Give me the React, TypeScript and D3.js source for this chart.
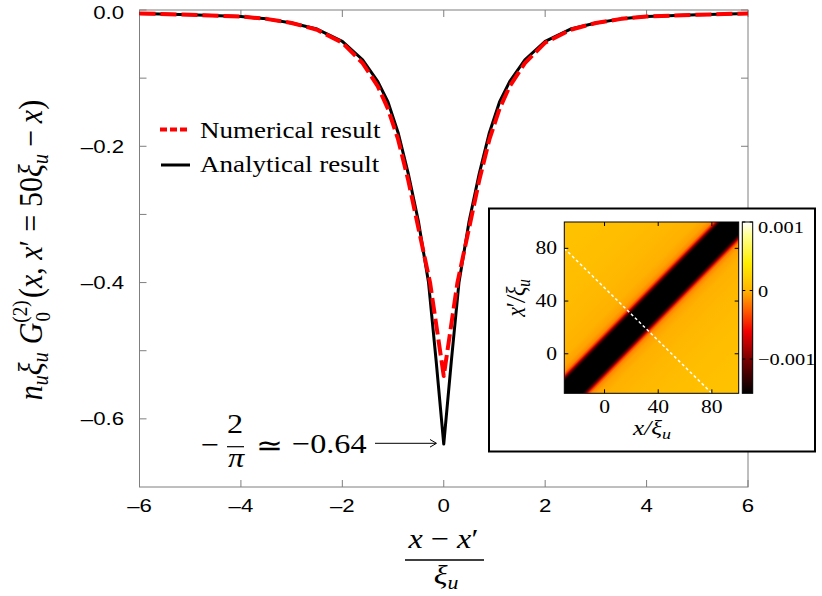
import React from "react";
import * as d3 from "d3";

// ---------- data ----------
const xTickValues = [-6, -4, -2, 0, 2, 4, 6];
const xTickLabels = ["–6", "–4", "–2", "0", "2", "4", "6"];
const yTickValues = [0, -0.2, -0.4, -0.6];
const yTickLabels = ["0.0", "–0.2", "–0.4", "–0.6"];
const yMinorTicks = [-0.1, -0.3, -0.5];

const analyticX = [-6, -5, -4, -3.5, -3, -2.5, -2, -1.6, -1.3, -1.1, -0.9, -0.7, -0.5, -0.3, -0.15, 0, 0.15, 0.3, 0.5, 0.7, 0.9, 1.1, 1.3, 1.6, 2, 2.5, 3, 3.5, 4, 5, 6];
const analyticY = [-0.005, -0.007, -0.0095, -0.013, -0.019, -0.028, -0.046, -0.073, -0.105, -0.135, -0.18, -0.24, -0.31, -0.4, -0.515, -0.637, -0.515, -0.4, -0.31, -0.24, -0.18, -0.135, -0.105, -0.073, -0.046, -0.028, -0.019, -0.013, -0.0095, -0.007, -0.005];

const numericX = [-6, -5, -4, -3.5, -3, -2.5, -2, -1.6, -1.3, -1.1, -0.9, -0.7, -0.5, -0.27, 0, 0.27, 0.5, 0.7, 0.9, 1.1, 1.3, 1.6, 2, 2.5, 3, 3.5, 4, 5, 6];
const numericY = [-0.005, -0.007, -0.0095, -0.013, -0.019, -0.029, -0.048, -0.078, -0.112, -0.145, -0.19, -0.25, -0.32, -0.4, -0.537, -0.4, -0.32, -0.25, -0.19, -0.145, -0.112, -0.078, -0.048, -0.029, -0.019, -0.013, -0.0095, -0.007, -0.005];

// inset heat map: value (colour-bar units) vs |x - x'| / xi_u
const heatDist = [0, 11, 13, 14.5, 16, 18, 22, 30, 50, 80, 130];
const heatVal = [-0.003, -0.0016, -0.0012, -0.0008, -0.0004, -0.00015, -0.00006, -0.00001, 0.00003, 0.00007, 0.0001];
const cbValues = [-0.0015, -0.001, -0.0006, -0.0003, 0, 0.0004, 0.0008, 0.001];
const cbColors = ["#000000", "#7a0000", "#f00000", "#ff5a00", "#ffb400", "#ffee00", "#ffff90", "#ffffff"];
const cbTickValues = [0.001, 0, -0.001];
const cbTickLabels = ["0.001", "0", "−0.001"];
const insetTicks = [0, 40, 80];
const cutLineX = [-30, 80];
const cutLineY = [80, -30];

// ---------- layout ----------
const W = 822;
const H = 596;
const SX = 1.2;
const frameColor = "#7f7f7f";
const sans = "'Liberation Sans', Arial, sans-serif";
const serif = "'Liberation Serif', 'Times New Roman', serif";

const xScale = d3.scaleLinear().domain([-6, 6]).range([139.5, 748]);
const yScale = d3.scaleLinear().domain([-0.7, 0]).range([487, 10]);
const hx = d3.scaleLinear().domain([-30, 100]).range([564.3, 738.7]);
const hy = d3.scaleLinear().domain([-30, 100]).range([393.3, 222]);
const cbScale = d3.scaleLinear().domain([-0.0015, 0.001]).range([393.3, 222]);
const colorScale = d3.scaleLinear<string>().domain(cbValues).range(cbColors).clamp(true);

function T(props: any) {
  const { x, y, sx = SX, anchor = "start", size, family = serif, italic, children, fill = "#000" } = props;
  return (
    <text
      transform={`translate(${x},${y}) scale(${sx},1)`}
      textAnchor={anchor}
      fontSize={size}
      fontFamily={family}
      fontStyle={italic ? "italic" : "normal"}
      fill={fill}
    >
      {children}
    </text>
  );
}

export default function App() {
  const analyticPath = d3.line()(analyticX.map((v, i) => [xScale(v), yScale(analyticY[i])]) as any) as string;
  const numericPath = d3.line()(numericX.map((v, i) => [xScale(v), yScale(numericY[i])]) as any) as string;

  const [x0, x1] = xScale.range();
  const [yb, yt] = yScale.range();
  const tl = 7;

  // heat map gradient along anti-diagonal: from x-x' = +130 (bottom-right) to -130 (top-left)
  const heatStops: { off: number; col: string }[] = [];
  for (let i = heatDist.length - 1; i >= 0; i--) heatStops.push({ off: (130 - heatDist[i]) / 260, col: colorScale(heatVal[i]) });
  for (let i = 1; i < heatDist.length; i++) heatStops.push({ off: (130 + heatDist[i]) / 260, col: colorScale(heatVal[i]) });

  const hx0 = hx(-30), hx1 = hx(100), hy0 = hy(-30), hy1 = hy(100);
  const cbx0 = 742.3, cbx1 = 752.7;

  return (
    <svg width={W} height={H} style={{ position: "absolute", left: 0, top: 0, background: "#fff" }}>
      <defs>
        <linearGradient id="heat" gradientUnits="userSpaceOnUse" x1={hx(100)} y1={hy(-30)} x2={hx(-30)} y2={hy(100)}>
          {heatStops.map((s, i) => (
            <stop key={i} offset={s.off} stopColor={s.col} />
          ))}
        </linearGradient>
        <linearGradient id="cb" gradientUnits="userSpaceOnUse" x1={0} y1={cbScale(-0.0015)} x2={0} y2={cbScale(0.001)}>
          {cbValues.map((v, i) => (
            <stop key={i} offset={(v + 0.0015) / 0.0025} stopColor={cbColors[i]} />
          ))}
        </linearGradient>
      </defs>

      {/* frame */}
      <rect x={x0} y={yt} width={x1 - x0} height={yb - yt} fill="none" stroke={frameColor} strokeWidth={1} />
      {xTickValues.map((v, i) => (
        <g key={"xt" + i}>
          <line x1={xScale(v)} x2={xScale(v)} y1={yb} y2={yb - tl} stroke={frameColor} />
          <line x1={xScale(v)} x2={xScale(v)} y1={yt} y2={yt + tl} stroke={frameColor} />
          <T x={xScale(v)} y={511.7} anchor="middle" size={18.5} family={sans}>
            {xTickLabels[i]}
          </T>
        </g>
      ))}
      {yTickValues.map((v, i) => (
        <g key={"yt" + i}>
          <line x1={x0} x2={x0 + tl} y1={yScale(v)} y2={yScale(v)} stroke={frameColor} />
          <line x1={x1} x2={x1 - tl} y1={yScale(v)} y2={yScale(v)} stroke={frameColor} />
          <T x={124} y={Math.max(yScale(v), 12.5) + 6.6} anchor="end" size={18.5} family={sans}>
            {yTickLabels[i]}
          </T>
        </g>
      ))}
      {yMinorTicks.map((v, i) => (
        <g key={"ym" + i}>
          <line x1={x0} x2={x0 + tl} y1={yScale(v)} y2={yScale(v)} stroke={frameColor} />
          <line x1={x1} x2={x1 - tl} y1={yScale(v)} y2={yScale(v)} stroke={frameColor} />
        </g>
      ))}

      {/* curves */}
      <path d={analyticPath} fill="none" stroke="#000" strokeWidth={3} strokeLinejoin="round" />
      <path d={numericPath} fill="none" stroke="#ff0000" strokeWidth={4} strokeDasharray="16,5" strokeLinejoin="round" />

      {/* legend */}
      <line x1={160} x2={190} y1={129.5} y2={129.5} stroke="#ff0000" strokeWidth={4} strokeDasharray="7,3" />
      <T x={200} y={137.7} size={22.5}>Numerical result</T>
      <line x1={161} x2={190} y1={165} y2={165} stroke="#000" strokeWidth={3} />
      <T x={200} y={171.7} size={22.5}>Analytical result</T>

      {/* annotation */}
      <T x={210} y={454} anchor="middle" size={28} sx={1.15}>−</T>
      <T x={235} y={433} anchor="middle" size={28} sx={1.15}>2</T>
      <line x1={227} x2={244} y1={446.7} y2={446.7} stroke="#000" strokeWidth={1.2} />
      <T x={236} y={467} anchor="middle" size={28} sx={1.15} italic>π</T>
      <T x={269} y={455} anchor="middle" size={28} sx={1.15}>≃</T>
      <T x={292} y={453.3} size={28} sx={1.15}>−0.64</T>
      <line x1={375} x2={436} y1={443.3} y2={443.3} stroke="#000" strokeWidth={1} />
      <polyline points="430,439.5 436.5,443.3 430,447.1" fill="none" stroke="#000" strokeWidth={1} />

      {/* y axis label */}
      <g transform="translate(42,250) rotate(-90) scale(1,1.15)">
        <text textAnchor="middle" fontFamily={serif} fontSize={30} fontStyle="italic" fill="#000">
          <tspan>n</tspan>
          <tspan fontSize={20} dy={5}>u</tspan>
          <tspan dy={-5}>ξ</tspan>
          <tspan fontSize={20} dy={5}>u</tspan>
          <tspan dy={-5} dx={8}>G</tspan>
          <tspan fontSize={19} fontStyle="normal" dy={-13}>(2)</tspan>
          <tspan fontSize={19} fontStyle="normal" dx={-21} dy={20}>0</tspan>
          <tspan fontStyle="normal" dx={14} dy={-7}>(</tspan>
          <tspan>x</tspan>
          <tspan fontStyle="normal">, </tspan>
          <tspan>x</tspan>
          <tspan fontStyle="normal">′</tspan>
          <tspan fontStyle="normal" dx={8}>=</tspan>
          <tspan fontStyle="normal" dx={8}>50</tspan>
          <tspan>ξ</tspan>
          <tspan fontSize={20} dy={5}>u</tspan>
          <tspan fontStyle="normal" dy={-5} dx={7}>−</tspan>
          <tspan dx={7}>x</tspan>
          <tspan fontStyle="normal">)</tspan>
        </text>
      </g>

      {/* x axis label */}
      <T x={443.5} y={548} anchor="middle" size={28} sx={1.15}>
        <tspan fontStyle="italic">x</tspan> − <tspan fontStyle="italic">x</tspan>′
      </T>
      <line x1={405} x2={484} y1={560} y2={560} stroke="#000" strokeWidth={1.3} />
      <T x={446} y={584} anchor="middle" size={28} sx={1.15}>
        <tspan fontStyle="italic">ξ</tspan>
        <tspan fontStyle="italic" fontSize={19} dy={5}>u</tspan>
      </T>

      {/* inset */}
      <rect x={489} y={208.5} width={326} height={243} fill="#fff" stroke="#000" strokeWidth={2} />
      <rect x={hx0} y={hy1} width={hx1 - hx0} height={hy0 - hy1} fill="url(#heat)" />
      <line
        x1={hx(cutLineX[0])}
        y1={hy(cutLineY[0])}
        x2={hx(cutLineX[1])}
        y2={hy(cutLineY[1])}
        stroke="#fff"
        strokeWidth={1.5}
        strokeDasharray="3,2.5"
      />
      <rect x={hx0} y={hy1} width={hx1 - hx0} height={hy0 - hy1} fill="none" stroke="#000" strokeWidth={1} />
      {insetTicks.map((v, i) => (
        <g key={"it" + i}>
          <line x1={hx(v)} x2={hx(v)} y1={hy0} y2={hy0 - 4} stroke="#000" />
          <line x1={hx(v)} x2={hx(v)} y1={hy1} y2={hy1 + 4} stroke="#000" />
          <line x1={hx0} x2={hx0 + 4} y1={hy(v)} y2={hy(v)} stroke="#000" />
          <line x1={hx1} x2={hx1 - 4} y1={hy(v)} y2={hy(v)} stroke="#000" />
          <T x={hx(v)} y={413} anchor="middle" size={18}>{String(v)}</T>
          <T x={557} y={hy(v) + 6} anchor="end" size={18}>{String(v)}</T>
        </g>
      ))}
      <T x={652} y={435} anchor="middle" size={21} italic>
        x/ξ<tspan fontSize={15} dy={4}>u</tspan>
      </T>
      <g transform="translate(525,298) rotate(-90) scale(1,1.2)">
        <text textAnchor="middle" fontFamily={serif} fontSize={22} fontStyle="italic" fill="#000">
          x<tspan fontStyle="normal">′</tspan>/ξ<tspan fontSize={15} dy={4}>u</tspan>
        </text>
      </g>

      {/* colour bar */}
      <rect x={cbx0} y={cbScale(0.001)} width={cbx1 - cbx0} height={cbScale(-0.0015) - cbScale(0.001)} fill="url(#cb)" stroke="#000" strokeWidth={1} />
      {cbTickValues.map((v, i) => (
        <g key={"cb" + i}>
          <line x1={cbx0} x2={cbx0 + 3} y1={cbScale(v)} y2={cbScale(v)} stroke="#000" />
          <line x1={cbx1} x2={cbx1 - 3} y1={cbScale(v)} y2={cbScale(v)} stroke="#000" />
          <T x={758} y={Math.max(cbScale(v), 227) + 6} size={17}>{cbTickLabels[i]}</T>
        </g>
      ))}
    </svg>
  );
}
